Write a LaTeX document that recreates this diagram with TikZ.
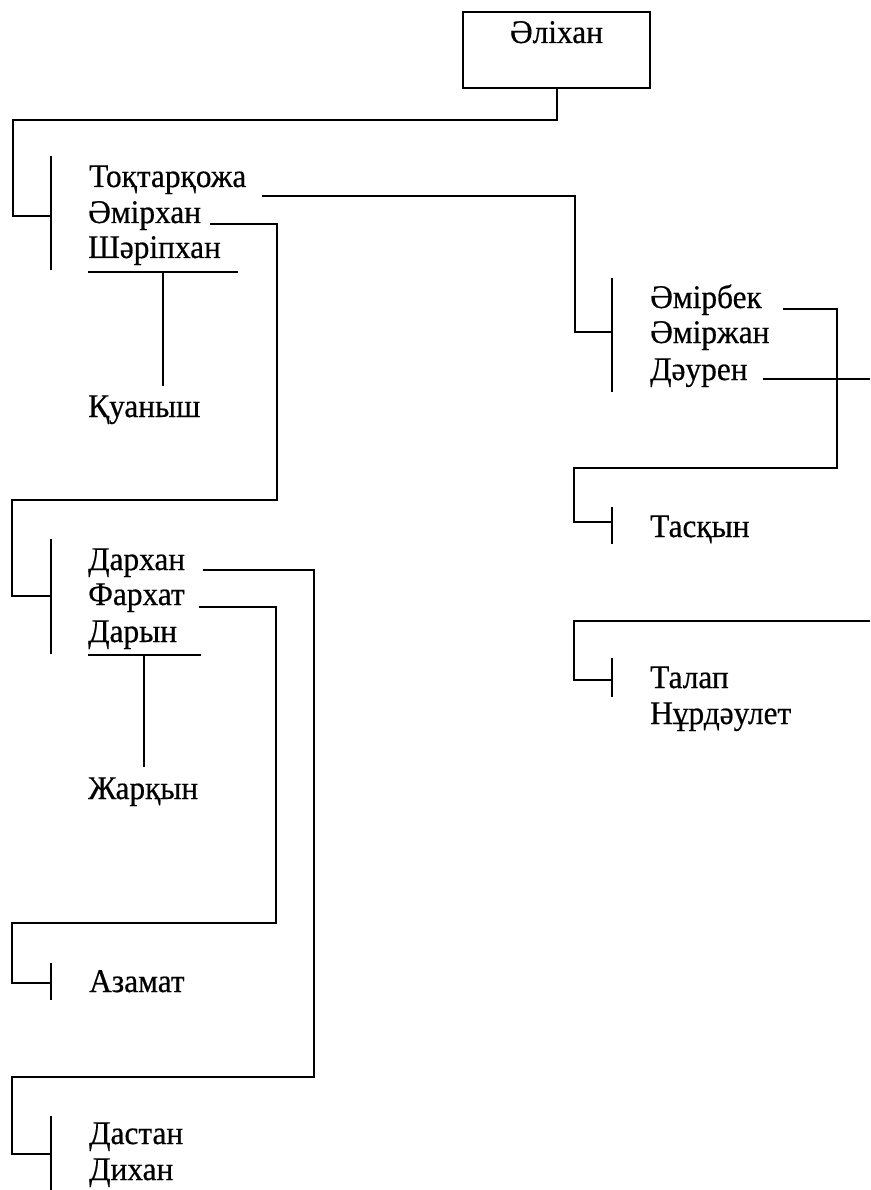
\documentclass[tikz,border=0pt]{standalone}
\usepackage{fontspec}
\setmainfont{Liberation Serif}[FakeStretch=0.95,FakeBold=0.5]
\usetikzlibrary{calc}
\begin{document}
\begin{tikzpicture}[x=1pt,y=-1pt,
  person/.style={anchor=base west,inner sep=0pt,font=\fontsize{33}{36}\selectfont},
  link/.style={line width=2pt,line join=miter},
  rootbox/.style={draw,line width=2pt,inner sep=0pt,minimum width=187pt,
     text height=31pt,text depth=45pt,font=\fontsize{33}{36}\selectfont}]
\useasboundingbox[fill=white] (0,0) rectangle (870,1190);

% root
\node[rootbox,anchor=north] (ali) at (556.5,11) {Әліхан};

% first generation
\node[person] (toq) at (89,187) {Тоқтарқожа};
\node[person] (emh) at (88,223) {Әмірхан};
\node[person] (sha) at (88,258) {Шәріпхан};
\node[person] (kua) at (88,417) {Қуаныш};

% Toqtarqozha's sons
\node[person] (emb) at (650,308) {Әмірбек};
\node[person] (emz) at (650,343) {Әміржан};
\node[person] (dau) at (650,380) {Дәурен};
\node[person] (tas) at (650,537) {Тасқын};
\node[person] (tal) at (650,688) {Талап};
\node[person] (nur) at (650,724) {Нұрдәулет};

% Amirkhan's sons
\node[person] (dar) at (88,570) {Дархан};
\node[person] (far) at (88,605) {Фархат};
\node[person] (dry) at (88,642) {Дарын};
\node[person] (zha) at (88,799) {Жарқын};
\node[person] (aza) at (89,992) {Азамат};
\node[person] (das) at (89,1144) {Дастан};
\node[person] (dik) at (89,1180) {Дихан};

% coordinates
\coordinate (j1) at (13,120);
\coordinate (b1) at (51,216);
\coordinate (j2) at (575,332);
\coordinate (b2) at (612,332);
\coordinate (j3) at (837,468);
\coordinate (j4) at (574,522);
\coordinate (b3) at (612,522);
\coordinate (e1) at (870,379);
\coordinate (t0) at (870,621);
\coordinate (j5) at (574,680);
\coordinate (b4) at (612,680);
\coordinate (j6) at (277,500);
\coordinate (j7) at (12,596);
\coordinate (b5) at (51,596);
\coordinate (j8) at (314,1077);
\coordinate (j9) at (12,1154);
\coordinate (b6) at (51,1154);
\coordinate (j10) at (276,923);
\coordinate (j11) at (12,983);
\coordinate (b7) at (51,983);

% connectors
\draw[link] (ali.south) |- (j1) |- (b1);
\draw[link] ($(toq.base east)+(16,9)$) -| (j2) -- (b2);
\draw[link] ($(emb.base east)+(21,1)$) -| (j3) -| (j4) -- (b3);
\draw[link] ($(dau.base east)+(15,-1)$) -- (e1);
\draw[link] (t0) -| (j5) -- (b4);
\draw[link] ($(emh.base east)+(9,1)$) -| (j6) -| (j7) -- (b5);
\draw[link] ($(dar.base east)+(18,0)$) -| (j8) -| (j9) -- (b6);
\draw[link] ($(far.base east)+(14,2)$) -| (j10) -| (j11) -- (b7);

% brackets
\draw[link] (51,156) -- (51,270);
\draw[link] (612,278) -- (612,392);
\draw[link] (612,507) -- (612,544);
\draw[link] (612,658) -- (612,697);
\draw[link] (51,539) -- (51,654);
\draw[link] (51,963) -- (51,1000);
\draw[link] (51,1116) -- (51,1190);

% underlines with descent lines
\coordinate (u1) at (163,272);
\coordinate (u2) at (144,655);
\draw[link] (88,272) -- (238,272);
\draw[link] (u1) -- (163,386);
\draw[link] (88,655) -- (201,655);
\draw[link] (u2) -- (144,767);
\end{tikzpicture}
\end{document}
